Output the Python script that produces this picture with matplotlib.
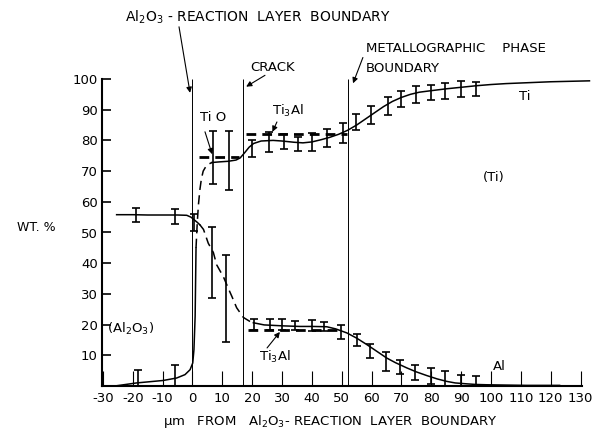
import matplotlib
matplotlib.use('Agg')
import matplotlib.pyplot as plt

plt.rcParams['font.family'] = ['DejaVu Sans']
plt.rcParams['mathtext.default'] = 'regular'
plt.rcParams['axes.unicode_minus'] = False

# ---------------- data ----------------
x_ticks = list(range(-30, 131, 10))
x_tick_labels = [str(v) for v in x_ticks]
y_ticks = list(range(10, 101, 10))
y_tick_labels = [str(v) for v in y_ticks]

boundary_x = [0, 17, 52]           # Al2O3 boundary, crack, metallographic boundary

# Ti curve (solid parts and dashed rise)
ti_left_x = [-26, -18.7, -9.8, -5.3, -2.5, -0.8, 0.1, 0.5, 0.9, 1.2]
ti_left_y = [0, 1.0, 1.8, 2.6, 3.7, 5.3, 7.5, 11.8, 22.7, 45]
ti_dash_x = [1.2, 1.6, 2.0, 2.5, 3.0, 3.6, 4.5, 5.5, 6.5]
ti_dash_y = [45, 53, 59, 64, 67.5, 70, 71.5, 72.3, 72.8]
ti_right_x = [6.5, 9, 12, 14.6, 16, 17.5, 19, 20.5, 23, 27, 30, 34, 37, 40, 43, 46, 49,
              52, 55, 58, 61, 64, 67, 70, 73, 76, 80, 85, 90, 95, 100, 105, 110, 120, 133]
ti_right_y = [72.8, 73.0, 73.2, 73.6, 74.3, 76, 77.8, 79, 79.8, 80, 79.8, 79.4, 79.2, 79.5,
              80.2, 81, 82, 83.3, 85, 87, 89, 91, 92.7, 94, 95, 95.7, 96.2, 96.8, 97.3,
              97.8, 98.2, 98.5, 98.7, 99.1, 99.4]

# Al curve
al_left_x = [-25.4, -20, -15, -10, -5, -1.9, -0.5, 0.5, 1.5, 2.5]
al_left_y = [55.8, 55.8, 55.7, 55.7, 55.7, 55.6, 55.0, 54.2, 53.4, 52.5]
al_dash_x = [2.5, 3.7, 5.3, 7.0, 8.1, 10.4, 12.6, 13.2, 14.8, 17.0, 17.6, 19.3, 20.4]
al_dash_y = [52.5, 51.0, 46.5, 43.5, 39.5, 35.5, 30.5, 29.2, 25.5, 22.4, 22.0, 21.0, 20.6]
al_right_x = [20.4, 24, 30, 36, 40, 45, 48, 51.7, 55, 58.4, 61, 65.1, 68, 71.8, 75,
              78.5, 82, 85.2, 88, 91.9, 95, 98.6, 105, 112, 123]
al_right_y = [20.6, 19.9, 19.6, 19.4, 19.4, 19.3, 18.6, 17.3, 15.6, 13.5, 11.8, 9.1, 7.6,
              5.9, 4.6, 3.4, 2.3, 1.5, 1.0, 0.7, 0.5, 0.4, 0.3, 0.2, 0.2]

# error bars
ti_err_x = [-18.3, -5.8, 7.0, 12.3, 19.9, 25.7, 30.7, 35.4, 40.0, 45.0, 50.3, 54.9,
            59.9, 65.4, 69.9, 75.0, 80.0, 84.7, 90.0, 95.0]
ti_err_y = [2.6, 3.5, 74.5, 73.6, 77.4, 79.5, 79.7, 78.7, 79.6, 80.7, 82.5, 86.0,
            88.4, 91.3, 93.6, 95.0, 95.6, 96.0, 96.7, 96.7]
ti_err_e = [2.5, 3.5, 8.7, 9.6, 2.7, 3.2, 2.4, 2.3, 2.9, 3.0, 3.2, 2.6,
            2.9, 2.9, 2.6, 2.7, 2.4, 2.6, 2.7, 2.4]

al_err_x = [-19.0, -6.0, 0.5, 6.7, 11.3, 20.5, 26.0, 30.0, 34.3, 40.0, 44.0, 49.6,
            55.0, 59.6, 65.0, 69.6, 74.6, 80.0, 84.6, 90.0, 95.0]
al_err_y = [55.7, 55.2, 53.2, 40.3, 28.5, 20.0, 20.0, 19.9, 19.7, 19.8, 19.4, 17.6,
            15.0, 11.4, 8.0, 6.2, 4.5, 3.2, 2.3, 1.5, 1.0]
al_err_e = [2.3, 2.3, 2.7, 11.6, 14.1, 1.8, 1.8, 1.8, 1.6, 1.8, 1.6, 2.3,
            2.0, 2.2, 3.1, 2.4, 2.5, 2.6, 2.7, 2.0, 2.3]

# stoichiometric compositions (dashed levels)
tio_level = 74.6
tio_span = [2.3, 15.7]
ti3al_ti_level = 82.0
ti3al_ti_span = [18.0, 51.7]
ti3al_al_level = 18.2
ti3al_al_span = [18.5, 50.0]

# ---------------- figure ----------------
fig = plt.figure(figsize=(6.02, 4.36), dpi=100)
ax = fig.add_axes([102 / 602, 50 / 436, 480 / 602, 307 / 436])
ax.set_xlim(-30.3, 130.5)
ax.set_ylim(0, 100)

for s in ['top', 'right']:
    ax.spines[s].set_visible(False)
for s in ['left', 'bottom']:
    ax.spines[s].set_linewidth(1.5)

ax.set_xticks(x_ticks)
ax.set_xticklabels(x_tick_labels, fontsize=9.5)
ax.set_yticks(y_ticks)
ax.set_yticklabels(y_tick_labels, fontsize=9.5)
ax.tick_params(axis='x', direction='in', length=11, width=0.8, pad=4)
ax.tick_params(axis='y', direction='in', length=6.5, width=1.2, pad=3)

# vertical boundaries
ax.vlines(boundary_x, 0, 100, colors='black', linewidth=0.7)

dash = (0, (6, 3.5))
lw = 1.1
ax.plot(ti_left_x, ti_left_y, color='black', lw=lw)
ax.plot(ti_dash_x, ti_dash_y, color='black', lw=lw, linestyle=dash)
ax.plot(ti_right_x, ti_right_y, color='black', lw=lw, clip_on=False)
ax.plot(al_left_x, al_left_y, color='black', lw=lw)
ax.plot(al_dash_x, al_dash_y, color='black', lw=lw, linestyle=dash)
ax.plot(al_right_x, al_right_y, color='black', lw=lw)

thick_dash = (0, (3.5, 2.2))
ax.plot(tio_span, [tio_level, tio_level], color='black', lw=2.0, linestyle=thick_dash)
ax.plot(ti3al_ti_span, [ti3al_ti_level, ti3al_ti_level], color='black', lw=2.0, linestyle=thick_dash)
ax.plot(ti3al_al_span, [ti3al_al_level, ti3al_al_level], color='black', lw=2.0, linestyle=thick_dash)

ax.errorbar(ti_err_x, ti_err_y, yerr=ti_err_e, fmt='none', ecolor='black',
            elinewidth=1.2, capsize=3, capthick=1.2)
ax.errorbar(al_err_x, al_err_y, yerr=al_err_e, fmt='none', ecolor='black',
            elinewidth=1.2, capsize=3, capthick=1.2)

# ---------------- labels & annotations ----------------
arw = dict(arrowstyle='-|>', color='black', lw=0.8, mutation_scale=8, shrinkA=0, shrinkB=0)
fs = 9.5

fig.text(125 / 602, 1 - 17 / 436, r'Al$_2$O$_3$ - REACTION  LAYER  BOUNDARY',
         fontsize=10, ha='left', va='center')
ax.annotate('', xy=(-0.8, 95.5), xytext=(-4.5, 117), arrowprops=arw, annotation_clip=False)

ax.text(19.3, 103.7, 'CRACK', fontsize=fs, ha='left', va='center', clip_on=False)
ax.annotate('', xy=(18.0, 97.5), xytext=(24.3, 101.2), arrowprops=arw, annotation_clip=False)

ax.text(58.2, 109.9, 'METALLOGRAPHIC    PHASE', fontsize=fs, ha='left', va='center', clip_on=False)
ax.text(58.2, 103.4, 'BOUNDARY', fontsize=fs, ha='left', va='center', clip_on=False)
ax.annotate('', xy=(53.8, 98.6), xytext=(57.1, 107.0), arrowprops=arw, annotation_clip=False)

ax.text(2.4, 87.4, 'Ti O', fontsize=fs, ha='left', va='center')
ax.annotate('', xy=(6.6, 75.5), xytext=(4.2, 82.8), arrowprops=arw)

ax.text(26.6, 89.5, r'Ti$_3$Al', fontsize=fs, ha='left', va='center')
ax.annotate('', xy=(26.8, 82.8), xytext=(28.3, 86.0), arrowprops=arw)

ax.text(22.4, 9.5, r'Ti$_3$Al', fontsize=fs, ha='left', va='center')
ax.annotate('', xy=(29.3, 17.6), xytext=(25.0, 12.4), arrowprops=arw)

ax.text(109.5, 94.2, 'Ti', fontsize=fs, ha='left', va='center')
ax.text(101.0, 67.9, '(Ti)', fontsize=fs, ha='center', va='center')
ax.text(-28.6, 18.5, r'(Al$_2$O$_3$)', fontsize=fs, ha='left', va='center')
ax.text(100.6, 6.3, 'Al', fontsize=fs, ha='left', va='center')

fig.text(36 / 602, 1 - 227 / 436, 'WT. %', fontsize=9, ha='center', va='center')
fig.text(330 / 602, 1 - 421 / 436, r'$\mu$m   FROM   Al$_2$O$_3$- REACTION  LAYER  BOUNDARY',
         fontsize=9.5, ha='center', va='center')

fig.savefig('out.png', dpi=100)
